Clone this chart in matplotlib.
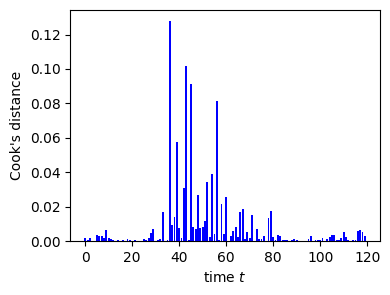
import matplotlib
matplotlib.use("Agg")
import matplotlib.pyplot as plt
import numpy as np

# Cook's distance per time step
cooks_d = [
    0.0017, 0.0008, 0.0017, 0.0002, 0.0002, 0.0035, 0.0030, 0.0030, 0.0018, 0.0065,
    0.0018, 0.0009, 0.0005, 0.0002, 0.0006, 0.0002, 0.0006, 0.0002, 0.0012, 0.0007,
    0.0002, 0.0005, 0.0002, 0.0002, 0.0002, 0.0012, 0.0006, 0.0020, 0.0047, 0.0070,
    0.0002, 0.0006, 0.0012, 0.0168, 0.0002, 0.0005, 0.1277, 0.0093, 0.0140, 0.0575,
    0.0076, 0.0019, 0.0306, 0.1016, 0.0006, 0.0912, 0.0081, 0.0070, 0.0267, 0.0075,
    0.0080, 0.0116, 0.0342, 0.0023, 0.0389, 0.0040, 0.0813, 0.0006, 0.0215, 0.0041,
    0.0255, 0.0002, 0.0030, 0.0058, 0.0081, 0.0023, 0.0168, 0.0186, 0.0012, 0.0052,
    0.0018, 0.0151, 0.0002, 0.0070, 0.0012, 0.0012, 0.0029, 0.0002, 0.0134, 0.0174,
    0.0023, 0.0006, 0.0035, 0.0029, 0.0006, 0.0005, 0.0005, 0.0002, 0.0006, 0.0012,
    0.0006, 0.0002, 0.0002, 0.0002, 0.0002, 0.0012, 0.0030, 0.0002, 0.0006, 0.0006,
    0.0005, 0.0017, 0.0002, 0.0012, 0.0023, 0.0033, 0.0035, 0.0006, 0.0006, 0.0017,
    0.0053, 0.0023, 0.0006, 0.0002, 0.0006, 0.0005, 0.0058, 0.0064, 0.0052, 0.0030,
]
t = np.arange(len(cooks_d))

fig, ax = plt.subplots(figsize=(3.9, 2.95), dpi=100)
fig.subplots_adjust(left=0.18, right=0.974, top=0.965, bottom=0.183)

ax.bar(t, cooks_d, color="b")
ax.set_xlabel("time $t$")
ax.set_ylabel("Cook's distance")

fig.savefig("out.png")
